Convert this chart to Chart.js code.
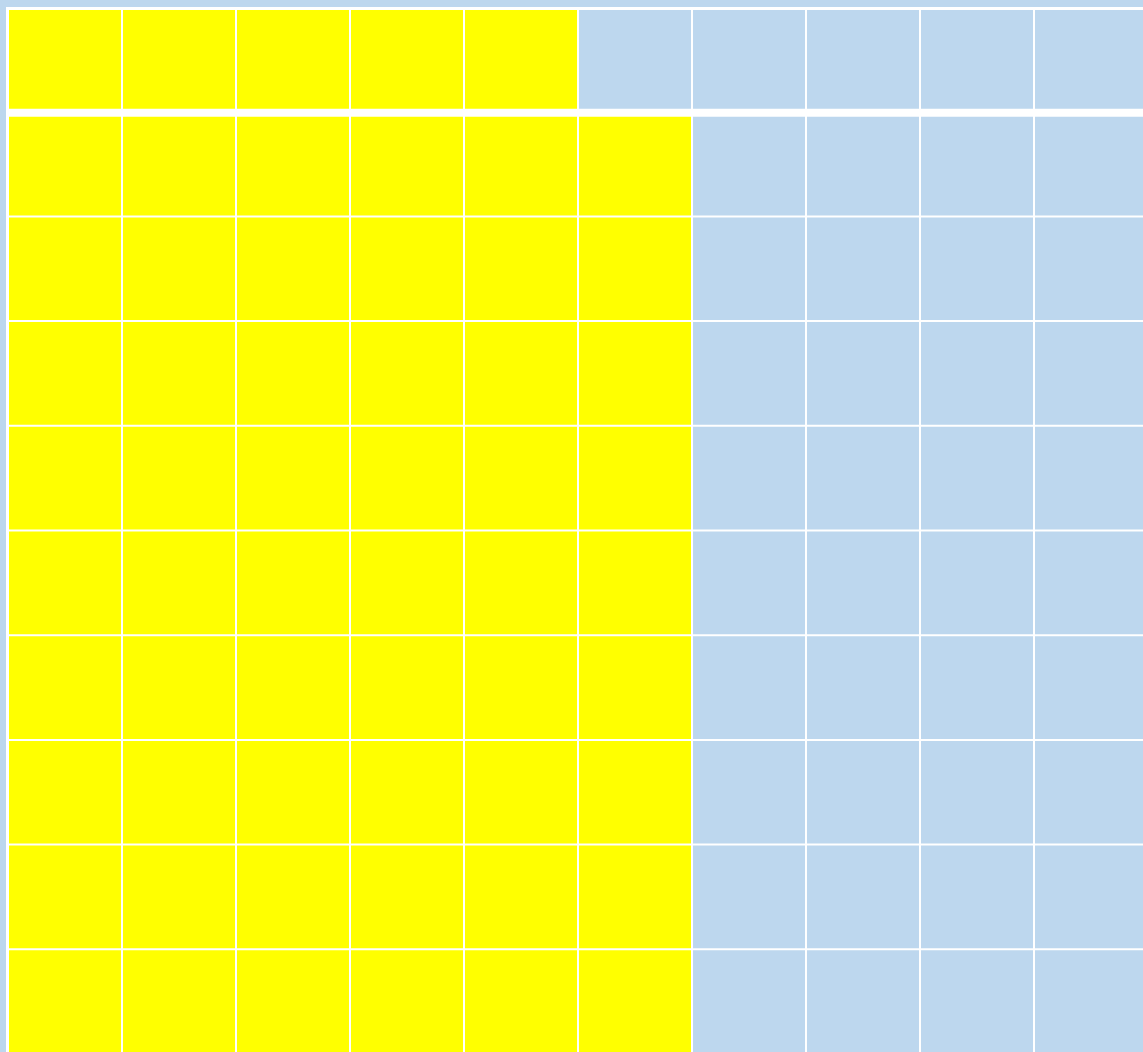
<!DOCTYPE html>
<html>
<head>
<meta charset="utf-8">
<script src="https://cdn.jsdelivr.net/npm/chart.js@4"></script>
<style>
  html, body { margin: 0; padding: 0; background: #BDD7EE; overflow: hidden; }
  #frame { position: absolute; left: 6px; top: 7px; width: 1200px; height: 1100px; background: #fff; }
  #waffle { position: absolute; left: 2px; top: 0; }
</style>
</head>
<body>
<div id="frame"><canvas id="waffle" width="1140" height="1047"></canvas></div>
<script>
// grid of 10 rows x 10 columns, yellow cells counted from the left of each row
const rows = ['1', '2', '3', '4', '5', '6', '7', '8', '9', '10'];
const columns = ['1', '2', '3', '4', '5', '6', '7', '8', '9', '10'];
const filledPerRow = [5, 6, 6, 6, 6, 6, 6, 6, 6, 6];
const cellSize = 1;

const yellow = '#FFFF00';
const blue = '#BDD7EE';

function cellBorder(ctx) {
  // first row sits apart from the rest with a wider white gap
  if (ctx.dataIndex === 0) return { top: 3, bottom: 3, left: 1, right: 1 };
  if (ctx.dataIndex === 1) return { top: 5, bottom: 1, left: 1, right: 1 };
  return 1;
}

const datasets = columns.map((col, j) => ({
  label: col,
  data: rows.map(() => cellSize),
  backgroundColor: rows.map((r, i) => (j < filledPerRow[i] ? yellow : blue)),
  borderColor: '#ffffff',
  borderWidth: cellBorder,
  borderSkipped: false,
  inflateAmount: 0,
  barPercentage: 1,
  categoryPercentage: 1
}));

const ctx = document.getElementById('waffle').getContext('2d');

new Chart(ctx, {
  type: 'bar',
  data: { labels: rows, datasets: datasets },
  options: {
    indexAxis: 'y',
    responsive: false,
    animation: false,
    layout: { padding: 0 },
    plugins: {
      legend: { display: false },
      tooltip: { enabled: false }
    },
    scales: {
      x: { stacked: true, min: 0, max: columns.length, display: false },
      y: { stacked: true, display: false }
    }
  }
});
</script>
</body>
</html>
